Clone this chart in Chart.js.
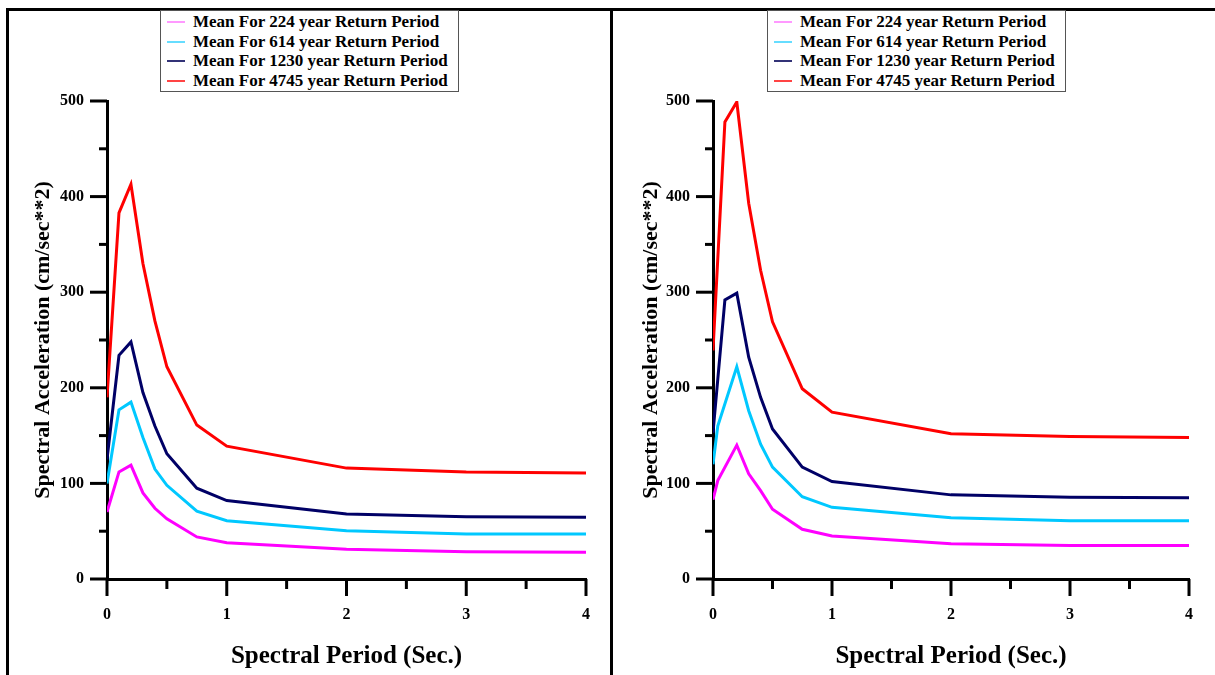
<!DOCTYPE html>
<html><head><meta charset="utf-8">
<script src="https://cdn.jsdelivr.net/npm/chart.js@4"></script>
<style>
html,body{margin:0;padding:0;background:#fff;}
body{width:1215px;height:675px;position:relative;overflow:hidden;font-family:'Liberation Serif','Times New Roman',serif;}
.frame{position:absolute;background:#000;}
canvas{position:absolute;top:0;}
.legend{position:absolute;top:10px;height:82px;border:1px solid #555;box-sizing:border-box;background:#fff;font-weight:bold;font-size:17px;line-height:19.7px;padding-top:1px;color:#000;}
.legend .row{display:flex;align-items:center;white-space:nowrap;height:19.7px;}
.legend .sw{width:18px;height:2px;margin:0 8px 0 6px;flex:none;}
</style></head>
<body>
<div class="frame" style="left:6px;top:8px;width:1209px;height:3px"></div>
<div class="frame" style="left:6px;top:8px;width:3px;height:667px"></div>
<div class="frame" style="left:610px;top:8px;width:3px;height:667px"></div>
<canvas id="c1" width="610" height="675" style="left:0"></canvas>
<canvas id="c2" width="602" height="675" style="left:613px"></canvas>
<div class="legend" id="lg1" style="left:160px;width:299px"></div>
<div class="legend" id="lg2" style="left:767px;width:299px"></div>
<script>
// ---- data ----
const seriesNames = ['Mean For 224 year Return Period','Mean For 614 year Return Period','Mean For 1230 year Return Period','Mean For 4745 year Return Period'];
const seriesColors = ['#ff00ff','#00c8ff','#000066','#ff0000'];
const legendColors = ['#ff99ff','#66ddff','#333377','#ff4444'];

// left panel
const periodsL = [0, 0.1, 0.2, 0.3, 0.4, 0.5, 0.75, 1, 2, 3, 4];
const left224  = [70, 112, 119, 90, 74, 63, 44, 38, 31, 28.5, 28];
const left614  = [100, 177, 185, 148, 115, 98, 71, 61, 50.5, 47, 47];
const left1230 = [125, 234, 248, 195, 160, 131, 95, 82, 68, 65, 64.5];
const left4745 = [190, 383, 413, 330, 270, 222, 161, 139, 116, 112, 111];

// right panel
const periodsRlow  = [0, 0.04, 0.2, 0.3, 0.4, 0.5, 0.75, 1, 2, 3, 4];
const periodsRhigh = [0, 0.1, 0.2, 0.3, 0.4, 0.5, 0.75, 1, 2, 3, 4];
const right224  = [83, 103, 140, 110, 92.5, 73, 52, 45, 37, 35, 35];
const right614  = [120, 160, 222, 176, 141, 117, 86, 75, 64, 61, 61];
const right1230 = [153, 292, 299, 232, 190, 157, 117, 102, 88, 85.5, 85];
const right4745 = [239, 478, 499, 393, 323, 269, 199, 174.5, 152, 149, 148];

// axes
const xMajorTicks = [0, 1, 2, 3, 4];
const xMinorTicks = [0.5, 1.5, 2.5, 3.5];
const yMajorTicks = [0, 100, 200, 300, 400, 500];
const yMinorTicks = [50, 150, 250, 350, 450];
const xTitle = 'Spectral Period (Sec.)';
const yTitle = 'Spectral Acceleration (cm/sec**2)';

const FAM = "'Liberation Serif','Times New Roman',serif";

function pts(xs, ys){ return xs.map((x,i)=>({x:x, y:ys[i]})); }

const tickPlugin = {
  id:'tickMarks',
  afterDraw(chart){
    const {ctx, chartArea, scales} = chart;
    const x = scales.x, y = scales.y;
    ctx.save();
    ctx.strokeStyle = '#000';
    ctx.lineWidth = 3;
    ctx.lineCap = 'butt';
    const L = chartArea.left, B = chartArea.bottom;
    yMajorTicks.concat(yMinorTicks).forEach(v=>{
      const py = y.getPixelForValue(v);
      const len = yMajorTicks.includes(v) ? 17 : 8;
      ctx.beginPath(); ctx.moveTo(L - len, py); ctx.lineTo(L, py); ctx.stroke();
    });
    xMajorTicks.concat(xMinorTicks).forEach(v=>{
      const px = x.getPixelForValue(v);
      const len = xMajorTicks.includes(v) ? 17 : 10;
      ctx.beginPath(); ctx.moveTo(px, B); ctx.lineTo(px, B + len); ctx.stroke();
    });
    ctx.restore();
  }
};

function makeChart(id, dataArr, areaLeft, padRight, yTitlePad){
  const datasets = dataArr.map((d,i)=>({
    label: seriesNames[i], data: d, borderColor: seriesColors[i], backgroundColor: seriesColors[i],
    borderWidth: 3, pointRadius: 0, tension: 0, fill: false
  }));
  return new Chart(document.getElementById(id), {
    type:'line',
    data:{datasets},
    options:{
      responsive:false, animation:false, parsing:true,
      layout:{padding:{left:0, right:padRight, top:101, bottom:0}},
      plugins:{legend:{display:false}, tooltip:{enabled:false}},
      scales:{
        x:{type:'linear', min:0, max:4,
          afterBuildTicks(s){ s.ticks = xMajorTicks.map(v=>({value:v})); },
          ticks:{font:{family:FAM,size:16,weight:'bold'}, color:'#000', padding:4, maxRotation:0, autoSkip:false},
          grid:{display:true, drawOnChartArea:false, drawTicks:true, tickLength:22, tickColor:'rgba(0,0,0,0)', color:'rgba(0,0,0,0)'},
          border:{display:true, color:'#000', width:3},
          title:{display:true, text:xTitle, color:'#000', font:{family:FAM,size:25,weight:'bold'}, padding:{top:0,bottom:3}},
          afterFit(s){ s.height = 96; }
        },
        y:{type:'linear', min:0, max:500,
          afterBuildTicks(s){ s.ticks = yMajorTicks.map(v=>({value:v})); },
          ticks:{font:{family:FAM,size:16,weight:'bold'}, color:'#000', padding:23, autoSkip:false},
          grid:{display:false, drawTicks:false, tickLength:0},
          border:{display:true, color:'#000', width:3},
          title:{display:true, text:yTitle, color:'#000', font:{family:FAM,size:22,weight:'bold'}, padding:{top:yTitlePad,bottom:0}},
          afterFit(s){ s.width = areaLeft; }
        }
      }
    },
    plugins:[tickPlugin]
  });
}

makeChart('c1', [pts(periodsL,left224), pts(periodsL,left614), pts(periodsL,left1230), pts(periodsL,left4745)], 107, 24, 30);
makeChart('c2', [pts(periodsRlow,right224), pts(periodsRlow,right614), pts(periodsRhigh,right1230), pts(periodsRhigh,right4745)], 100, 26, 25);

function buildLegend(id){
  const el = document.getElementById(id);
  seriesNames.forEach((n,i)=>{
    const r = document.createElement('div'); r.className='row';
    const s = document.createElement('span'); s.className='sw'; s.style.background = legendColors[i];
    const t = document.createElement('span'); t.textContent = n;
    r.appendChild(s); r.appendChild(t); el.appendChild(r);
  });
}
buildLegend('lg1'); buildLegend('lg2');
</script>
</body></html>
